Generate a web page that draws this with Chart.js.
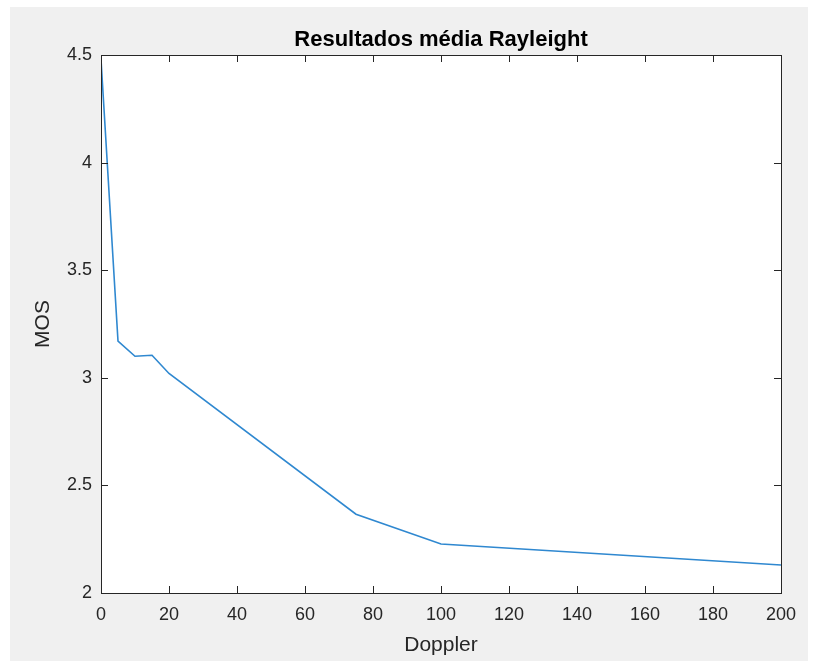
<!DOCTYPE html>
<html>
<head>
<meta charset="utf-8">
<script src="https://cdn.jsdelivr.net/npm/chart.js@4.4.1/dist/chart.umd.min.js"></script>
<style>
    html, body { margin: 0; padding: 0; background: #fff; }
    #panel { position: absolute; left: 10px; top: 7px; width: 798px; height: 654px; background: #f0f0f0; }
    #wrap { position: absolute; left: 0; top: 0; width: 816px; height: 661px; }
</style>
</head>
<body>
<div id="panel"></div>
<div id="wrap"><canvas id="mosChart" width="816" height="661"></canvas></div>
<script>
var dopplerValues = [0, 5, 10, 15, 20, 75, 100, 200];
var mosValues = [4.48, 3.17, 3.10, 3.105, 3.02, 2.366, 2.228, 2.13];
var xTicks = [0, 20, 40, 60, 80, 100, 120, 140, 160, 180, 200];
var yTicks = [2, 2.5, 3, 3.5, 4, 4.5];

var axisColor = '#262626';
var fontFamily = '"Liberation Sans", Arial, Helvetica, sans-serif';

// white plot area + MATLAB style box with inward ticks
var boxPlugin = {
    id: 'matlabBox',
    beforeDraw: function (chart) {
        var a = chart.chartArea;
        var ctx = chart.ctx;
        ctx.save();
        ctx.fillStyle = '#ffffff';
        ctx.fillRect(a.left, a.top, a.right - a.left, a.bottom - a.top);
        ctx.restore();
    },
    afterDraw: function (chart) {
        var a = chart.chartArea;
        var ctx = chart.ctx;
        var xs = chart.scales.x;
        var ys = chart.scales.y;
        var len = 7;
        ctx.save();
        ctx.strokeStyle = axisColor;
        ctx.lineWidth = 1;
        ctx.beginPath();
        xTicks.forEach(function (t) {
            var px = Math.round(xs.getPixelForValue(t)) + 0.5;
            ctx.moveTo(px, a.bottom);
            ctx.lineTo(px, a.bottom - len);
            ctx.moveTo(px, a.top);
            ctx.lineTo(px, a.top + len);
        });
        yTicks.forEach(function (t) {
            var py = Math.round(ys.getPixelForValue(t)) + 0.5;
            ctx.moveTo(a.left, py);
            ctx.lineTo(a.left + len, py);
            ctx.moveTo(a.right, py);
            ctx.lineTo(a.right - len, py);
        });
        ctx.stroke();
        ctx.strokeRect(Math.round(a.left) + 0.5, Math.round(a.top) + 0.5,
            Math.round(a.right - a.left), Math.round(a.bottom - a.top));
        ctx.restore();
    }
};

var ctx = document.getElementById('mosChart').getContext('2d');
var mosChart = new Chart(ctx, {
    type: 'scatter',
    data: {
        datasets: [{
            label: 'MOS',
            data: dopplerValues.map(function (d, i) { return { x: d, y: mosValues[i] }; }),
            showLine: true,
            borderColor: '#2f88d0',
            borderWidth: 1.6,
            pointRadius: 0,
            tension: 0,
            fill: false
        }]
    },
    options: {
        responsive: false,
        animation: false,
        layout: {
            padding: { left: 0, right: 35, top: 0, bottom: 0 }
        },
        plugins: {
            legend: { display: false },
            tooltip: { enabled: false },
            title: {
                display: true,
                fullSize: false,
                text: 'Resultados média Rayleight',
                color: '#000',
                font: { family: fontFamily, size: 22, weight: 'bold', lineHeight: 1.2 },
                padding: { top: 27, bottom: 1.6 }
            }
        },
        scales: {
            x: {
                type: 'linear',
                min: 0,
                max: 200,
                afterFit: function (scale) { scale.height = 68; },
                afterBuildTicks: function (scale) {
                    scale.ticks = xTicks.map(function (v) { return { value: v }; });
                },
                grid: { display: false, drawTicks: false },
                border: { display: false },
                ticks: {
                    color: axisColor,
                    padding: 11.7,
                    font: { family: fontFamily, size: 18 }
                },
                title: {
                    display: true,
                    text: 'Doppler',
                    color: axisColor,
                    font: { family: fontFamily, size: 21, lineHeight: 1.2 },
                    padding: { top: 0, bottom: 3.4 }
                }
            },
            y: {
                type: 'linear',
                min: 2,
                max: 4.5,
                afterFit: function (scale) { scale.width = 101; },
                afterBuildTicks: function (scale) {
                    scale.ticks = yTicks.map(function (v) { return { value: v }; });
                },
                grid: { display: false, drawTicks: false },
                border: { display: false },
                ticks: {
                    color: axisColor,
                    padding: 9,
                    font: { family: fontFamily, size: 18 },
                    callback: function (value) { return String(value); }
                },
                title: {
                    display: true,
                    text: 'MOS',
                    color: axisColor,
                    font: { family: fontFamily, size: 21, lineHeight: 1.2 },
                    padding: { top: 31, bottom: 0 }
                }
            }
        }
    },
    plugins: [boxPlugin]
});
</script>
</body>
</html>
